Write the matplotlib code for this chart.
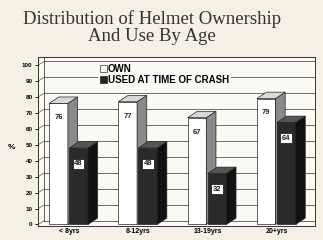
import matplotlib
matplotlib.use("Agg")
import matplotlib.pyplot as plt
from matplotlib.patches import Polygon, Patch
import numpy as np

categories = ["< 8yrs", "8-12yrs", "13-19yrs", "20+yrs"]
own = [76, 77, 67, 79]
used = [48, 48, 32, 64]
yticks = list(range(0, 101, 10))

bg = "#f3f0e6"
fig = plt.figure(figsize=(3.23, 2.4), dpi=100, facecolor=bg)
ax = fig.add_axes([0.118, 0.058, 0.857, 0.704])
ax.set_facecolor("#fbfaf5")

w = 0.27
d = 0.14
dz = 4.0
x = np.arange(len(categories))

x0lim = -0.45
ax.set_xlim(x0lim, 3.55)
ax.set_ylim(-1, 105)

wall = 0.09
for yv in yticks:
    ax.plot([x0lim + wall, 3.55], [yv + dz * 0.6, yv + dz * 0.6], color="#555555", lw=0.6, zorder=1)
    ax.plot([x0lim, x0lim + wall], [yv, yv + dz * 0.6], color="#555555", lw=0.5, zorder=1)
ax.plot([x0lim + wall, x0lim + wall], [dz * 0.6, 105], color="#444444", lw=0.6, zorder=1)

def bar3d(x0, v, front, side, top, zo):
    ax.bar(x0, v, width=w, align="edge", color=front, edgecolor="#222222", lw=0.5, zorder=zo)
    ax.add_patch(Polygon([(x0 + w, 0), (x0 + w + d, dz), (x0 + w + d, v + dz), (x0 + w, v)],
                         closed=True, facecolor=side, edgecolor="#222222", lw=0.5, zorder=zo))
    ax.add_patch(Polygon([(x0, v), (x0 + d, v + dz), (x0 + w + d, v + dz), (x0 + w, v)],
                         closed=True, facecolor=top, edgecolor="#222222", lw=0.5, zorder=zo))

for i in range(len(categories)):
    bar3d(x[i] - 0.29, own[i], "white", "#8a8a8a", "#d8d8d8", 3)
    bar3d(x[i] + 0.0, used[i], "#2a2a2a", "#111111", "#555555", 4)
    ax.text(x[i] - 0.29 + w / 2, own[i] - 9, str(own[i]), ha="center", va="center",
            fontsize=5.5, fontweight="bold", family="Liberation Sans", color="#222222", zorder=6)
    ax.text(x[i] + 0.0 + w / 2, used[i] - 10, str(used[i]), ha="center", va="center",
            fontsize=5.5, fontweight="bold", family="Liberation Sans", color="#222222", zorder=6,
            bbox=dict(boxstyle="square,pad=0.2", facecolor="white", edgecolor="#222222", lw=0.6))

ax.set_xticks(x + 0.0)
ax.set_xticklabels(categories, fontsize=5, fontweight="bold", family="Liberation Sans")
ax.set_yticks(yticks)
ax.set_yticklabels([str(t) for t in yticks], fontsize=4.5, fontweight="bold", family="Liberation Sans")
ax.tick_params(axis="x", length=0, pad=1.5)
ax.tick_params(axis="y", length=2, pad=2, width=0.6)
for s in ax.spines.values():
    s.set_linewidth(0.7)
    s.set_color("#333333")

handles = [Patch(facecolor="white", edgecolor="#333333", lw=0.5, label="OWN"),
           Patch(facecolor="#222222", edgecolor="#222222", lw=0.5, label="USED AT TIME OF CRASH")]
leg = ax.legend(handles=handles, loc="upper left", bbox_to_anchor=(0.2, 0.995), frameon=True,
                prop=dict(family="Liberation Sans", weight="bold", size=7),
                handlelength=0.7, handleheight=0.7, handletextpad=0.15, labelspacing=0.1,
                borderpad=0.15, fancybox=False, framealpha=1)
leg.get_frame().set_edgecolor("none")
leg.get_frame().set_facecolor("#fbfaf5")
leg.set_zorder(7)

fig.text(0.025, 0.385, "%", fontsize=6, fontweight="bold", family="Liberation Sans", ha="left", va="center")
fig.text(0.47, 0.885, "Distribution of Helmet Ownership\nAnd Use By Age", ha="center", va="center",
         fontsize=13.5, family="Liberation Serif", color="#333333", linespacing=1.0)

fig.savefig("out.png", dpi=100, facecolor=bg)
